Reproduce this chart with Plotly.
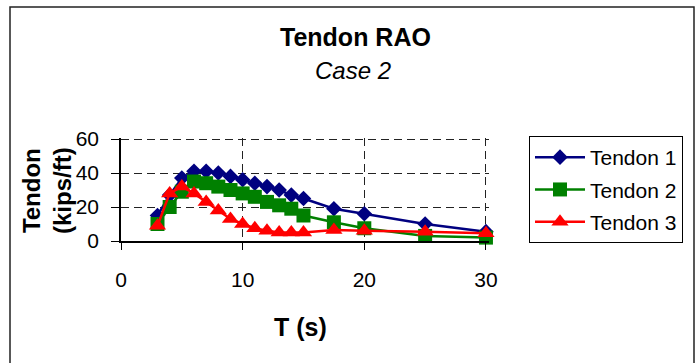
import plotly.graph_objects as go

T = [3, 4, 5, 6, 7, 8, 9, 10, 11, 12, 13, 14, 15, 17.5, 20, 25, 30]
tendon1 = [15, 27, 37, 41, 41, 40, 38, 36, 34, 32, 30, 27, 25, 19, 16, 10, 5.5]
tendon2 = [10, 20, 29, 35, 34, 32, 30, 28, 26, 23, 21, 19, 15, 11, 7.5, 3, 2]
tendon3 = [9, 28, 32, 28, 23, 18, 13, 10, 7.5, 6, 5, 5, 5, 6.5, 6, 5.5, 4.5]

series_names = ["Tendon 1", "Tendon 2", "Tendon 3"]
x_ticks = [0, 10, 20, 30]
y_ticks = [0, 20, 40, 60]

FONT = "Liberation Sans, Arial, sans-serif"

W, H = 699, 363
ML, MR, MT, MB = 121, 210, 138, 122
PW = W - ML - MR
PH = H - MT - MB
XMAX, YMAX = 30.25, 60.6


def px(x):
    return (x - ML) / PW


def py(y):
    return (H - MB - y) / PH


fig = go.Figure()
styles = [
    dict(color="#000080", symbol="diamond", size=12),
    dict(color="#008000", symbol="square", size=14),
    dict(color="#FF0000", symbol="triangle-up", size=15),
]
for i, (name, ys) in enumerate(zip(series_names, [tendon1, tendon2, tendon3])):
    st = styles[i]
    fig.add_trace(go.Scatter(
        x=T, y=ys, name=name, mode="lines+markers",
        line=dict(color=st["color"], width=2.5),
        marker=dict(color=st["color"], symbol=st["symbol"], size=st["size"]),
        cliponaxis=False, legendgroup=name,
    ))

fig.update_layout(
    width=W, height=H,
    margin=dict(l=ML, r=MR, t=MT, b=MB, pad=0),
    paper_bgcolor="white", plot_bgcolor="white",
    font=dict(family=FONT, color="black", size=21),
    showlegend=True,
    legend=dict(
        x=px(529), y=py(136), xanchor="left", yanchor="top",
        bordercolor="black", borderwidth=1, bgcolor="white",
        font=dict(size=21, family=FONT), tracegroupgap=2,
        itemwidth=50,
    ),
    xaxis=dict(
        range=[0, XMAX], tickvals=x_ticks, ticktext=[str(v) for v in x_ticks],
        showgrid=True, gridcolor="#222", griddash="8px,5px", gridwidth=1,
        showline=True, linecolor="black", linewidth=1.5,
        ticks="outside", ticklen=7, tickcolor="black",
        ticklabelstandoff=12, zeroline=False,
        tickfont=dict(size=21),
    ),
    yaxis=dict(
        range=[0, YMAX], tickvals=y_ticks, ticktext=[str(v) for v in y_ticks],
        showgrid=True, gridcolor="#222", griddash="8px,5px", gridwidth=1,
        showline=True, linecolor="black", linewidth=1.5,
        ticks="outside", ticklen=8, tickcolor="black",
        ticklabelstandoff=8, zeroline=False,
        tickfont=dict(size=21),
    ),
    shapes=[dict(
        type="rect", xref="paper", yref="paper",
        x0=px(10), x1=px(694), y0=py(375), y1=py(7),
        line=dict(color="#222", width=1.5), fillcolor="rgba(0,0,0,0)",
        layer="below",
    )],
    annotations=[
        dict(text="<b>Tendon RAO</b>", x=px(355), y=py(37), xref="paper", yref="paper",
             xanchor="center", yanchor="middle", showarrow=False,
             font=dict(size=25, family=FONT)),
        dict(text="<i>Case 2</i>", x=px(353), y=py(70), xref="paper", yref="paper",
             xanchor="center", yanchor="middle", showarrow=False,
             font=dict(size=24, family=FONT)),
        dict(text="<b>T (s)</b>", x=px(300), y=py(327), xref="paper", yref="paper",
             xanchor="center", yanchor="middle", showarrow=False,
             font=dict(size=25, family=FONT)),
        dict(text="<b>Tendon<br>(kips/ft)</b>", x=px(47), y=py(191), xref="paper", yref="paper",
             xanchor="center", yanchor="middle", showarrow=False, textangle=-90,
             font=dict(size=24, family=FONT)),
    ],
)

fig.write_html("out.html")
